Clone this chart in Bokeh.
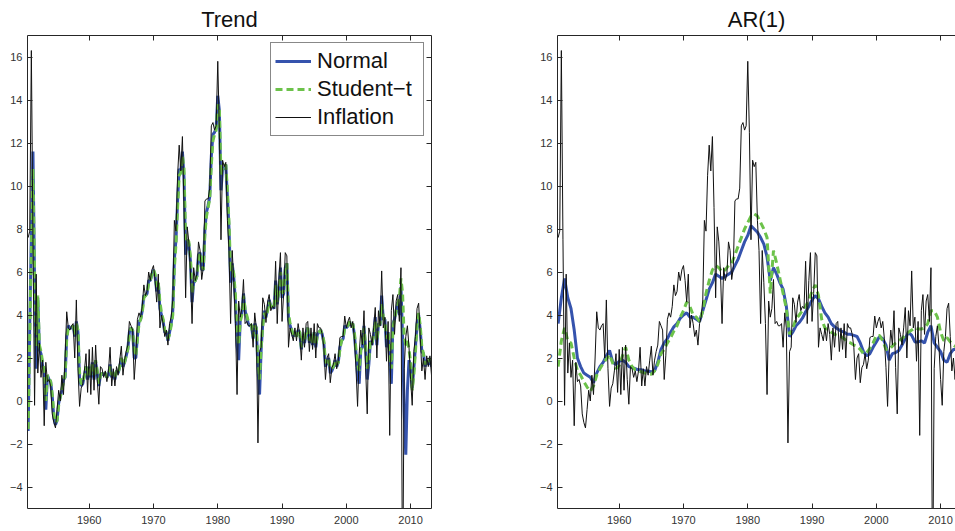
from bokeh.plotting import figure
from bokeh.models import LinearAxis, FixedTicker, Legend, LegendItem, Range1d, CustomLabelingPolicy
from bokeh.layouts import row
from bokeh.embed import file_html
from bokeh.resources import INLINE

# ---------------- data ----------------
START_YEAR = 1950.5          # first quarterly observation
AR_START_YEAR = 1950.5       # AR(1) trend sampled every half year

INFLATION = [
    7.6, 7.9,
    16.3, 7.5, -0.2, 5.9,
    1.3, 2.7, 1.1, 1.9,
    -1.15, 1.8, 0.9, 1.0,
    0.7, -0.6, -1.0, -1.25,
    -0.4, 0.5, 0.0, 1.2,
    0.3, 2.0, 4.15, 3.4,
    3.3, 3.5, 3.6, 2.0,
    4.7, 1.5, -0.25, 0.6,
    0.8, 1.4, 2.2, 0.4,
    2.4, 0.3, 2.5, 0.5,
    2.6, 1.0, -0.15, 1.6,
    1.5, 1.1, 1.4, 0.9,
    1.4, 2.5, 0.7, 1.5,
    0.7, 1.6, 1.2, 1.9,
    2.55, 1.2, 1.9, 2.3,
    2.6, 3.7, 3.5, 3.3,
    1.0, 2.1, 3.8, 4.1,
    3.9, 4.4, 5.4, 4.9,
    5.1, 6.0, 5.6, 6.1,
    6.3, 5.6, 4.6, 5.9,
    3.4, 4.0, 3.6, 3.0,
    3.3, 2.6, 3.6, 3.9,
    4.7, 8.4, 7.9, 10.5,
    11.9, 10.7, 12.3, 9.0,
    4.8, 8.1, 7.4, 6.0,
    3.6, 6.2, 5.6, 5.9,
    7.4, 7.0, 5.65, 6.2,
    9.3, 9.4, 9.4, 9.9,
    12.8, 12.95, 12.6, 12.8,
    15.8, 12.5, 7.5, 11.2,
    10.9, 11.1, 8.4, 7.0,
    3.6, 7.0, 5.5, 3.6,
    0.3, 4.65, 3.9, 4.3,
    5.65, 3.6, 3.7, 3.5,
    3.5, 3.6, 2.5, 4.1,
    3.4, -1.95, 2.3, 2.5,
    4.8, 4.5, 3.65, 4.6,
    4.95, 4.2, 4.4, 4.3,
    6.5, 3.6, 5.6, 6.9,
    3.7, 5.0, 6.9, 6.75,
    2.5, 3.4, 3.1, 2.8,
    3.4, 2.8, 3.6, 3.1,
    1.9, 3.4, 2.5, 3.6,
    3.7, 2.3, 3.4, 2.4,
    3.6, 2.0, 3.6, 3.4,
    3.4, 3.1, 2.5, 1.0,
    2.0, 2.2, 0.85, 1.55,
    1.7, 2.2, 1.5, 1.9,
    2.95, 3.0, 3.0, 3.95,
    3.4, 3.7, 3.9, 3.4,
    3.7, 2.9, 1.55, -0.25,
    2.2, 3.3, 2.6, 4.2,
    1.55, -0.6, 3.4, 3.1,
    2.6, 3.4, 4.35, 2.0,
    4.2, 3.5, 6.05, 3.4,
    3.9, 1.85, 3.7, -1.6,
    4.2, 4.95, 3.1, 4.65,
    4.95, 3.7, 6.2, -9.5,
    1.5, 3.0, 3.5, 2.5,
    1.0, -0.2, 2.3, 3.0,
    4.3, 4.55, 3.0, 1.4,
    2.0, 1.0, 2.1, 1.6,
    2.1, 1.2,
]

TREND_NORMAL = [
    -1.4, 3.5,
    7.8, 11.6, 5.5, 1.5,
    4.8, 2.4, 2.2, 1.6,
    1.5, -0.4, 1.2, 1.0,
    0.9, 0.2, -0.8, -1.1,
    -0.9, -0.1, 0.2, 0.5,
    1.0, 1.1, 3.0, 3.5,
    3.4, 3.4, 3.5, 3.0,
    3.7, 3.2, 1.0, 0.7,
    0.8, 1.2, 1.6, 1.0,
    1.6, 1.1, 1.8, 1.0,
    1.8, 1.3, 0.7, 1.2,
    1.3, 1.2, 1.3, 1.1,
    1.2, 1.7, 1.1, 1.3,
    1.0, 1.4, 1.3, 1.6,
    2.0, 1.6, 1.8, 2.1,
    2.4, 3.2, 3.4, 3.3,
    2.0, 2.0, 3.0, 3.7,
    3.8, 4.2, 4.9, 4.9,
    5.0, 5.6, 5.6, 5.9,
    6.1, 5.8, 5.1, 5.5,
    4.3, 4.0, 3.7, 3.2,
    3.2, 2.8, 3.2, 3.6,
    4.2, 6.6, 7.5, 9.3,
    10.8, 10.7, 11.6, 10.4,
    6.8, 7.5, 7.3, 6.5,
    4.6, 5.5, 5.6, 5.8,
    6.8, 6.9, 6.1, 6.1,
    8.0, 8.8, 9.1, 9.5,
    11.4, 12.4, 12.5, 12.7,
    14.2, 13.5, 9.8, 10.8,
    10.8, 11.0, 9.5, 8.0,
    5.5, 6.4, 5.7, 4.6,
    2.6, 1.9, 3.8, 4.1,
    5.0, 4.2, 3.9, 3.6,
    3.5, 3.5, 2.9, 3.6,
    3.4, 1.5, 0.3, 2.4,
    3.6, 4.2, 3.9, 4.3,
    4.7, 4.4, 4.4, 4.3,
    5.6, 4.5, 5.1, 6.2,
    4.8, 5.0, 6.2, 6.4,
    3.8, 3.5, 3.3, 3.0,
    3.2, 3.0, 3.3, 3.2,
    2.4, 3.0, 2.7, 3.2,
    3.4, 2.7, 3.1, 2.6,
    3.2, 2.5, 3.1, 3.2,
    3.3, 3.1, 2.7, 1.6,
    1.8, 2.0, 1.3, 1.4,
    1.6, 1.9, 1.6, 1.8,
    2.5, 2.8, 2.9, 3.5,
    3.4, 3.5, 3.7, 3.5,
    3.6, 3.1, 2.2, 1.2,
    0.8, 2.4, 2.5, 3.5,
    2.4, 1.0, 1.7, 2.8,
    2.6, 3.1, 3.9, 2.6,
    3.6, 3.5, 4.9, 3.8,
    3.8, 2.5, 3.2, 2.0,
    0.8, 3.6, 3.8, 4.2,
    4.6, 4.0, 5.3, 3.0,
    -0.5, -2.5, 0.5, 1.9,
    1.6, 0.6, 1.5, 2.5,
    3.6, 4.0, 3.3, 2.3,
    2.2, 1.6, 1.9, 1.7,
    2.0, 1.6,
]

TREND_STUDENT = [
    -1.3, 3.0,
    7.0, 10.8, 6.0, 2.5,
    4.9, 2.6, 2.3, 1.8,
    1.4, 0.0, 1.2, 1.1,
    0.9, 0.3, -0.6, -1.0,
    -0.9, -0.2, 0.2, 0.5,
    0.9, 1.2, 2.9, 3.4,
    3.4, 3.4, 3.5, 3.1,
    3.6, 3.3, 1.3, 0.8,
    0.8, 1.2, 1.6, 1.2,
    1.6, 1.2, 1.8, 1.2,
    1.9, 1.4, 0.8, 1.2,
    1.3, 1.2, 1.3, 1.1,
    1.2, 1.6, 1.2, 1.3,
    1.1, 1.4, 1.3, 1.6,
    2.0, 1.7, 1.8, 2.1,
    2.4, 3.1, 3.4, 3.3,
    2.3, 2.1, 2.9, 3.6,
    3.8, 4.1, 4.8, 4.9,
    5.0, 5.5, 5.6, 5.9,
    6.1, 5.9, 5.3, 5.5,
    4.6, 4.1, 3.8, 3.3,
    3.2, 2.9, 3.1, 3.5,
    4.0, 6.2, 7.3, 9.0,
    10.5, 10.6, 11.4, 10.8,
    7.5, 7.6, 7.4, 6.7,
    5.0, 5.5, 5.6, 5.8,
    6.6, 6.9, 6.3, 6.1,
    7.8, 8.6, 9.0, 9.4,
    11.0, 12.1, 12.4, 12.6,
    13.8, 13.6, 10.5, 10.9,
    10.9, 11.0, 9.8, 8.3,
    6.0, 6.3, 5.9, 4.9,
    3.2, 2.6, 3.7, 4.0,
    4.9, 4.3, 4.0, 3.7,
    3.6, 3.5, 3.0, 3.5,
    3.4, 1.8, 1.0, 2.5,
    3.5, 4.1, 3.9, 4.2,
    4.6, 4.4, 4.4, 4.3,
    5.4, 4.6, 5.1, 6.0,
    5.0, 5.1, 6.1, 6.4,
    4.1, 3.6, 3.3, 3.1,
    3.2, 3.0, 3.3, 3.2,
    2.5, 3.0, 2.8, 3.2,
    3.4, 2.8, 3.1, 2.7,
    3.2, 2.6, 3.1, 3.2,
    3.3, 3.1, 2.8, 1.8,
    1.8, 2.0, 1.5, 1.5,
    1.6, 1.9, 1.7, 1.8,
    2.4, 2.8, 2.9, 3.4,
    3.4, 3.5, 3.7, 3.5,
    3.6, 3.2, 2.4, 1.7,
    1.4, 2.4, 2.6, 3.4,
    2.5, 1.5, 1.9, 2.8,
    2.7, 3.1, 3.7, 2.8,
    3.5, 3.6, 4.5, 3.9,
    3.7, 2.9, 3.2, 2.4,
    1.5, 3.4, 3.8, 4.2,
    4.5, 4.8, 5.7, 5.0,
    3.0, 2.6, 2.8, 2.4,
    1.8, 0.5, 1.2, 2.3,
    3.5, 4.1, 3.5, 2.5,
    2.2, 1.7, 1.9, 1.8,
    2.0, 1.7,
]

AR_NORMAL = [
    3.6,
    4.8, 5.7, 4.8, 4.3, 3.3, 2.0, 1.6, 1.3, 1.2, 1.1,
    0.85, 1.3, 1.6, 1.8, 2.1, 2.35, 1.8, 1.7,
    1.85, 1.9, 1.8, 1.6, 1.55, 1.5, 1.45, 1.45, 1.4, 1.4, 1.35, 1.4,
    1.8, 2.4, 2.7, 2.9, 3.2, 3.45, 3.6, 3.85,
    4.0, 4.1, 3.9, 3.9, 3.8, 3.7, 4.2, 4.7, 5.2, 5.5, 5.9, 5.8,
    5.7, 5.8, 5.9, 6.0, 6.3, 6.6, 7.0, 7.4,
    7.7, 8.15, 8.0, 7.85, 7.6, 7.3, 6.7, 5.6, 6.2, 5.9, 5.5, 5.2,
    4.4, 3.0, 3.2, 3.5, 3.65, 3.85, 4.15, 4.4,
    4.7, 4.9, 4.75, 4.4, 4.1, 3.9, 3.6, 3.45, 3.35, 3.25, 3.2, 3.1,
    3.1, 3.05, 3.0, 2.7, 2.3, 2.1, 2.2, 2.5,
    2.75, 3.0, 2.9, 2.6, 1.9, 2.2, 2.25, 2.35, 2.6, 2.9, 3.2, 3.05,
    2.75, 2.75, 2.8, 2.7, 3.2, 3.5, 2.7, 2.5,
    2.3, 1.9, 1.8, 2.2, 2.4, 2.4, 2.3,
]

AR_STUDENT = [
    1.6,
    2.8, 3.4, 2.8, 2.7, 2.0, 1.4, 1.2, 0.9, 0.65, 0.45,
    0.7, 1.2, 1.5, 1.75, 1.95, 2.15, 1.75, 1.5,
    1.65, 2.1, 2.5, 1.9, 1.6, 1.45, 1.4, 1.35, 1.3, 1.25, 1.25, 1.4,
    1.7, 2.2, 2.4, 2.7, 2.95, 3.25, 3.5, 3.9,
    4.2, 4.6, 4.4, 4.0, 3.9, 3.7, 4.2, 5.0, 5.6, 6.1, 6.3, 6.2,
    6.0, 6.1, 6.3, 6.4, 6.8, 7.2, 7.6, 8.0,
    8.3, 8.6, 8.7, 8.6, 8.3, 8.0, 7.6, 5.0, 7.0, 6.4, 5.7, 5.0,
    4.3, 3.1, 3.4, 3.8, 4.0, 4.2, 4.4, 4.7,
    5.1, 5.4, 4.9, 3.8, 3.4, 3.3, 3.2, 3.1, 3.05, 3.0, 2.9, 2.75,
    2.7, 2.6, 2.55, 2.4, 2.2, 2.25, 2.45, 2.7,
    3.05, 3.05, 2.8, 2.4, 2.4, 2.55, 2.7, 2.8, 2.9, 3.05, 3.2, 3.3,
    3.4, 3.35, 3.35, 3.4, 3.6, 4.2, 4.2, 3.9,
    3.2, 2.8, 2.95, 2.75, 2.6, 2.5, 2.4,
]

Y_TICKS = [-4, -2, 0, 2, 4, 6, 8, 10, 12, 14, 16]
Y_TICK_LABELS = {-4: "\u22124", -2: "\u22122"}
X_TICKS = [1960, 1970, 1980, 1990, 2000, 2010]
SERIES_LABELS = ["Normal", "Student\u2212t", "Inflation"]
TITLES = ["Trend", "AR(1)"]

QUARTER_X = [START_YEAR + 0.25 * i for i in range(len(INFLATION))]
HALF_X = [AR_START_YEAR + 0.5 * i for i in range(len(AR_NORMAL))]

# ---------------- styling ----------------
FONT = "Liberation Sans"
AX_COLOR = "#262626"
BLUE = "#3553ad"
GREEN = "#6cc24a"
BLACK = "#111111"

NO_LABELS = "for (const i of Array.from(indices)) { indices.unset(i) }\nreturn indices"


def style_axis(ax, labels=True, standoff=5):
    ax.axis_line_color = AX_COLOR
    ax.axis_line_width = 1
    ax.major_tick_line_color = AX_COLOR
    ax.major_tick_in = 5
    ax.major_tick_out = 0
    ax.minor_tick_line_color = None
    ax.major_label_text_font = FONT
    ax.major_label_text_color = "#333333"
    if labels:
        ax.major_label_text_font_size = "11px"
        ax.major_label_standoff = standoff
    else:
        ax.major_label_text_font_size = "0px"
        ax.major_label_standoff = 0
        ax.major_label_policy = CustomLabelingPolicy(code=NO_LABELS)


def make_panel(title, x_end, frame_w, b_left, b_right, right_axis):
    p = figure(
        frame_width=frame_w, frame_height=473,
        x_range=Range1d(1950.4, x_end), y_range=Range1d(-5, 17),
        output_backend="svg", toolbar_location=None,
        min_border_left=b_left, min_border_right=b_right,
        min_border_top=35, min_border_bottom=23,
        background_fill_color="white", border_fill_color="white",
    )
    p.outline_line_color = None
    p.grid.visible = False
    p.title.text = title
    p.title.align = "center"
    p.title.text_font = FONT
    p.title.text_font_size = "22px"
    p.title.text_font_style = "normal"
    p.title.text_color = "#111111"
    p.title.standoff = 7

    p.xaxis.ticker = FixedTicker(ticks=X_TICKS)
    p.yaxis.ticker = FixedTicker(ticks=Y_TICKS)
    p.yaxis.major_label_overrides = Y_TICK_LABELS
    style_axis(p.xaxis[0], standoff=7)
    style_axis(p.yaxis[0], standoff=5)

    top = LinearAxis(ticker=FixedTicker(ticks=X_TICKS))
    style_axis(top, labels=False)
    p.add_layout(top, "above")
    if right_axis:
        rax = LinearAxis(ticker=FixedTicker(ticks=Y_TICKS))
        style_axis(rax, labels=False)
        p.add_layout(rax, "right")
    return p


# Left panel: trend model
p1 = make_panel(TITLES[0], 2013.25, 404, 27, 49, True)
r_n = p1.line(QUARTER_X, TREND_NORMAL, line_color=BLUE, line_width=3)
r_s = p1.line(QUARTER_X, TREND_STUDENT, line_color=GREEN, line_width=3, line_dash="7 4")
r_i = p1.line(QUARTER_X, INFLATION, line_color=BLACK, line_width=1)

legend = Legend(
    items=[LegendItem(label=SERIES_LABELS[0], renderers=[r_n]),
           LegendItem(label=SERIES_LABELS[1], renderers=[r_s]),
           LegendItem(label=SERIES_LABELS[2], renderers=[r_i])],
    location="top_right",
    margin=7, padding=4, spacing=0,
    glyph_width=36, glyph_height=28, label_height=28, label_width=102,
    label_standoff=6,
    label_text_font=FONT, label_text_font_size="22px", label_text_color="#111111",
    border_line_color="#111111", border_line_width=1,
    background_fill_color="white", background_fill_alpha=1.0,
)
p1.add_layout(legend)

# Right panel: AR(1) model (cut at the window edge as in the reference)
p2 = make_panel(TITLES[1], 1950.4 + 398 / 6.428, 398, 77, 0, False)
p2.line(HALF_X, AR_NORMAL, line_color=BLUE, line_width=3)
p2.line(HALF_X, AR_STUDENT, line_color=GREEN, line_width=3, line_dash="7 4")
p2.line(QUARTER_X, INFLATION, line_color=BLACK, line_width=1)

layout = row(p1, p2)
open("out.html", "w").write(file_html(layout, INLINE))
